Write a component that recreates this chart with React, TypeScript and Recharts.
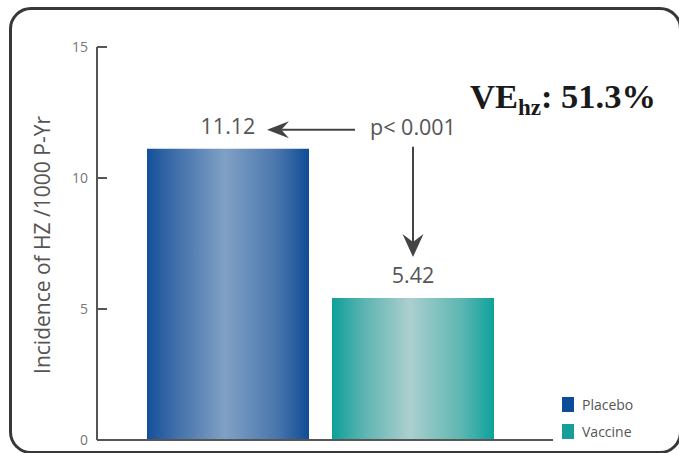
import React from "react";
import { BarChart, Bar, XAxis, YAxis, Legend, LabelList } from "recharts";

const groups = ["HZ incidence"];
const placeboValues = [11.12];
const vaccineValues = [5.42];
const yTicks = [0, 5, 10, 15];
const pValueText = "p< 0.001";
const veText = { main: "VE", sub: "hz", value: ": 51.3%" };

const data = groups.map((g, i) => ({ group: g, Placebo: placeboValues[i], Vaccine: vaccineValues[i] }));

const SANS = "'Open Sans', 'Noto Sans', sans-serif";

const YTick = (props: any) => {
  const { x, y, payload } = props;
  return (
    <g>
      <line x1={x} x2={x + 10} y1={y} y2={y} stroke="#555" strokeWidth={2} />
      <text x={x - 9} y={y} dy={5} textAnchor="end" fontSize={14} fill="#777" fontFamily={SANS}>
        {payload.value}
      </text>
    </g>
  );
};

const EndTick = (props: any) => {
  const { x, y } = props;
  return <line x1={x} x2={x} y1={y + 1} y2={y - 7} stroke="#555" strokeWidth={2} />;
};

const Arrow = ({ x1, y1, x2, y2, L = 22, W = 9 }: any) => {
  const ang = Math.atan2(y2 - y1, x2 - x1);
  const bx = x2 - L * Math.cos(ang), by = y2 - L * Math.sin(ang);
  const nx = -Math.sin(ang), ny = Math.cos(ang);
  const notch = L * 0.65;
  const cx = x2 - notch * Math.cos(ang), cy = y2 - notch * Math.sin(ang);
  return (
    <g>
      <line x1={x1} y1={y1} x2={cx} y2={cy} stroke="#444" strokeWidth={2} />
      <polygon
        points={`${x2},${y2} ${bx + nx * W},${by + ny * W} ${cx},${cy} ${bx - nx * W},${by - ny * W}`}
        fill="#444"
      />
    </g>
  );
};

const PlaceboLabel = (props: any) => {
  const { x, y, width, value } = props;
  const cx = x + width / 2;
  return (
    <text x={cx} y={y - 15} textAnchor="middle" fontSize={21.5} fill="#555" fontFamily={SANS}>
      {value.toFixed(2)}
    </text>
  );
};

const VaccineLabel = (props: any) => {
  const { x, y, width, height, value, index } = props;
  const cx = x + width / 2;
  const scale = height / value;
  const zero = y + height;
  const placeboTop = zero - placeboValues[index] * scale;
  const textY = placeboTop - 14;
  return (
    <g>
      <text x={cx} y={y - 15} textAnchor="middle" fontSize={21.5} fill="#555" fontFamily={SANS}>
        {value.toFixed(2)}
      </text>
      <text x={cx} y={textY} textAnchor="middle" fontSize={21.5} fill="#555" fontFamily={SANS}>
        {pValueText}
      </text>
      <Arrow x1={cx - 58} y1={textY - 5} x2={cx - 146} y2={textY - 5} L={22} W={8.5} />
      <Arrow x1={cx} y1={placeboTop - 2} x2={cx} y2={y - 41} L={23} W={10.5} />
    </g>
  );
};

const LegendContent = (props: any) => {
  const { payload } = props;
  return (
    <div>
      {payload.map((p: any) => (
        <div key={p.value} style={{ display: "flex", alignItems: "center", height: 27 }}>
          <div style={{ width: 12, height: 15, background: p.payload.legendColor, marginRight: 8 }} />
          <span style={{ fontSize: 14, color: "#555", fontFamily: SANS }}>{p.value}</span>
        </div>
      ))}
    </div>
  );
};

const YLabel = () => {
  return (
    <text
      x={50}
      y={245}
      transform="rotate(-90 50 245)"
      textAnchor="middle"
      fontSize={21}
      fill="#555"
      fontFamily={SANS}
    >
      Incidence of HZ /1000 P-Yr
    </text>
  );
};

export default function App() {
  return (
    <div style={{ position: "absolute", left: 0, top: 0, width: 679, height: 453, background: "#fff", overflow: "hidden" }}>
      <div
        style={{
          position: "absolute",
          left: 9,
          top: 7,
          width: 673,
          height: 447,
          border: "3px solid #383838",
          borderRadius: 22,
          boxSizing: "border-box",
        }}
      />
      <BarChart
        width={679}
        height={453}
        data={data}
        margin={{ top: 47, right: 125, bottom: 3, left: 10 }}
        barGap={23}
        barCategoryGap={0}
        style={{ position: "absolute", left: 0, top: 0 }}
      >
        <defs>
          <linearGradient id="gPlacebo" x1="0" y1="0" x2="1" y2="0">
            <stop offset="0%" stopColor="#14509a" />
            <stop offset="15%" stopColor="#3a6aa8" />
            <stop offset="48%" stopColor="#80a1c5" />
            <stop offset="80%" stopColor="#4a76ad" />
            <stop offset="100%" stopColor="#104c96" />
          </linearGradient>
          <linearGradient id="gVaccine" x1="0" y1="0" x2="1" y2="0">
            <stop offset="0%" stopColor="#0e9f9a" />
            <stop offset="20%" stopColor="#5db4b1" />
            <stop offset="48%" stopColor="#abcfce" />
            <stop offset="80%" stopColor="#5cb6b2" />
            <stop offset="100%" stopColor="#0da29b" />
          </linearGradient>
        </defs>
        <XAxis
          dataKey="group"
          tick={false}
          tickLine={false}
          axisLine={{ stroke: "#555", strokeWidth: 2 }}
          height={10}
          padding={{ left: 0, right: 9 }}
        />
        <YAxis
          domain={[0, 15]}
          ticks={yTicks}
          width={87}
          interval={0}
          axisLine={{ stroke: "#555", strokeWidth: 2 }}
          tickLine={false}
          tickSize={0}
          tickMargin={0}
          tick={<YTick />}
          label={<YLabel />}
        />
        <YAxis
          yAxisId="end"
          orientation="right"
          domain={[0, 15]}
          ticks={[0]}
          width={1}
          interval={0}
          axisLine={false}
          tickLine={false}
          tickSize={0}
          tickMargin={0}
          tick={<EndTick />}
        />
        <Legend
          layout="vertical"
          align="center"
          verticalAlign="middle"
          wrapperStyle={{ position: "absolute", left: 562, top: 391, width: 110 }}
          content={<LegendContent />}
        />
        <Bar
          dataKey="Placebo"
          barSize={162}
          fill="url(#gPlacebo)"
          legendColor="#0f4c97"
          isAnimationActive={false}
        >
          <LabelList dataKey="Placebo" content={<PlaceboLabel />} />
        </Bar>
        <Bar
          dataKey="Vaccine"
          barSize={162}
          fill="url(#gVaccine)"
          legendColor="#169e98"
          isAnimationActive={false}
        >
          <LabelList dataKey="Vaccine" content={<VaccineLabel />} />
        </Bar>
      </BarChart>
      <div
        style={{
          position: "absolute",
          left: 470,
          top: 76,
          fontFamily: "'Liberation Serif', 'Times New Roman', serif",
          fontWeight: "bold",
          fontSize: 34.5,
          color: "#1a1a1a",
          whiteSpace: "nowrap",
          lineHeight: "40px",
        }}
      >
        {veText.main}
        <span style={{ fontSize: 23, verticalAlign: "-7px" }}>{veText.sub}</span>
        {veText.value}
      </div>
    </div>
  );
}
